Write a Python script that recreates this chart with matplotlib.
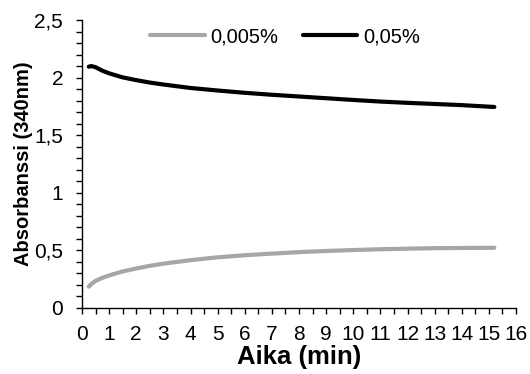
import matplotlib
matplotlib.use("Agg")
import matplotlib.pyplot as plt
from matplotlib.ticker import MultipleLocator, FuncFormatter

plt.rcParams['font.family'] = ['Liberation Sans', 'DejaVu Sans']

# time (min) and absorbance at 340 nm for the two concentrations
time_min = [0.25, 0.35, 0.5, 0.75, 1, 1.5, 2, 2.5, 3, 4, 5, 6, 7, 8, 9, 10, 11, 12, 13, 14, 15.2]
abs_low = [0.185, 0.21, 0.235, 0.262, 0.283, 0.317, 0.343, 0.366, 0.385, 0.415, 0.44,
           0.458, 0.472, 0.485, 0.495, 0.503, 0.51, 0.515, 0.519, 0.521, 0.523]
abs_high = [2.095, 2.1, 2.09, 2.06, 2.037, 2.002, 1.978, 1.957, 1.94, 1.91, 1.888,
            1.868, 1.851, 1.836, 1.821, 1.806, 1.792, 1.781, 1.771, 1.761, 1.745]
labels = ['0,005%', '0,05%']

fig = plt.figure(figsize=(5.3, 3.74), dpi=100)
ax = fig.add_axes([0.1547, 0.1765, 0.819, 0.77])

ax.plot(time_min, abs_low, color='#a6a6a6', lw=3, solid_capstyle='round', label=labels[0])
ax.plot(time_min, abs_high, color='black', lw=3, solid_capstyle='round', label=labels[1])

ax.set_xlim(0, 16)
ax.set_ylim(0, 2.5)
ax.xaxis.set_major_locator(MultipleLocator(1))
ax.xaxis.set_minor_locator(MultipleLocator(0.5))
ax.yaxis.set_major_locator(MultipleLocator(0.5))
ax.yaxis.set_minor_locator(MultipleLocator(0.1))

comma = FuncFormatter(lambda v, p: ('%g' % v).replace('.', ','))
ax.xaxis.set_major_formatter(comma)
ax.yaxis.set_major_formatter(comma)

for s in ['top', 'right']:
    ax.spines[s].set_visible(False)
for s in ['left', 'bottom']:
    ax.spines[s].set_linewidth(1)

ax.tick_params(axis='both', which='both', direction='out', length=4, width=1, labelsize=15)
ax.tick_params(axis='y', pad=9.5)
ax.tick_params(axis='x', pad=8)

ax.set_xlabel('Aika (min)', fontsize=18.5, fontweight='bold', labelpad=1)
ax.set_ylabel('Absorbanssi (340nm)', fontsize=14.5, fontweight='bold', labelpad=1)

ax.legend(loc='center', bbox_to_anchor=(0.468, 0.941), ncol=2, frameon=False,
          fontsize=14.5, handlelength=2.7, handletextpad=0.3, columnspacing=1.2)

fig.savefig('out.png', dpi=100)
